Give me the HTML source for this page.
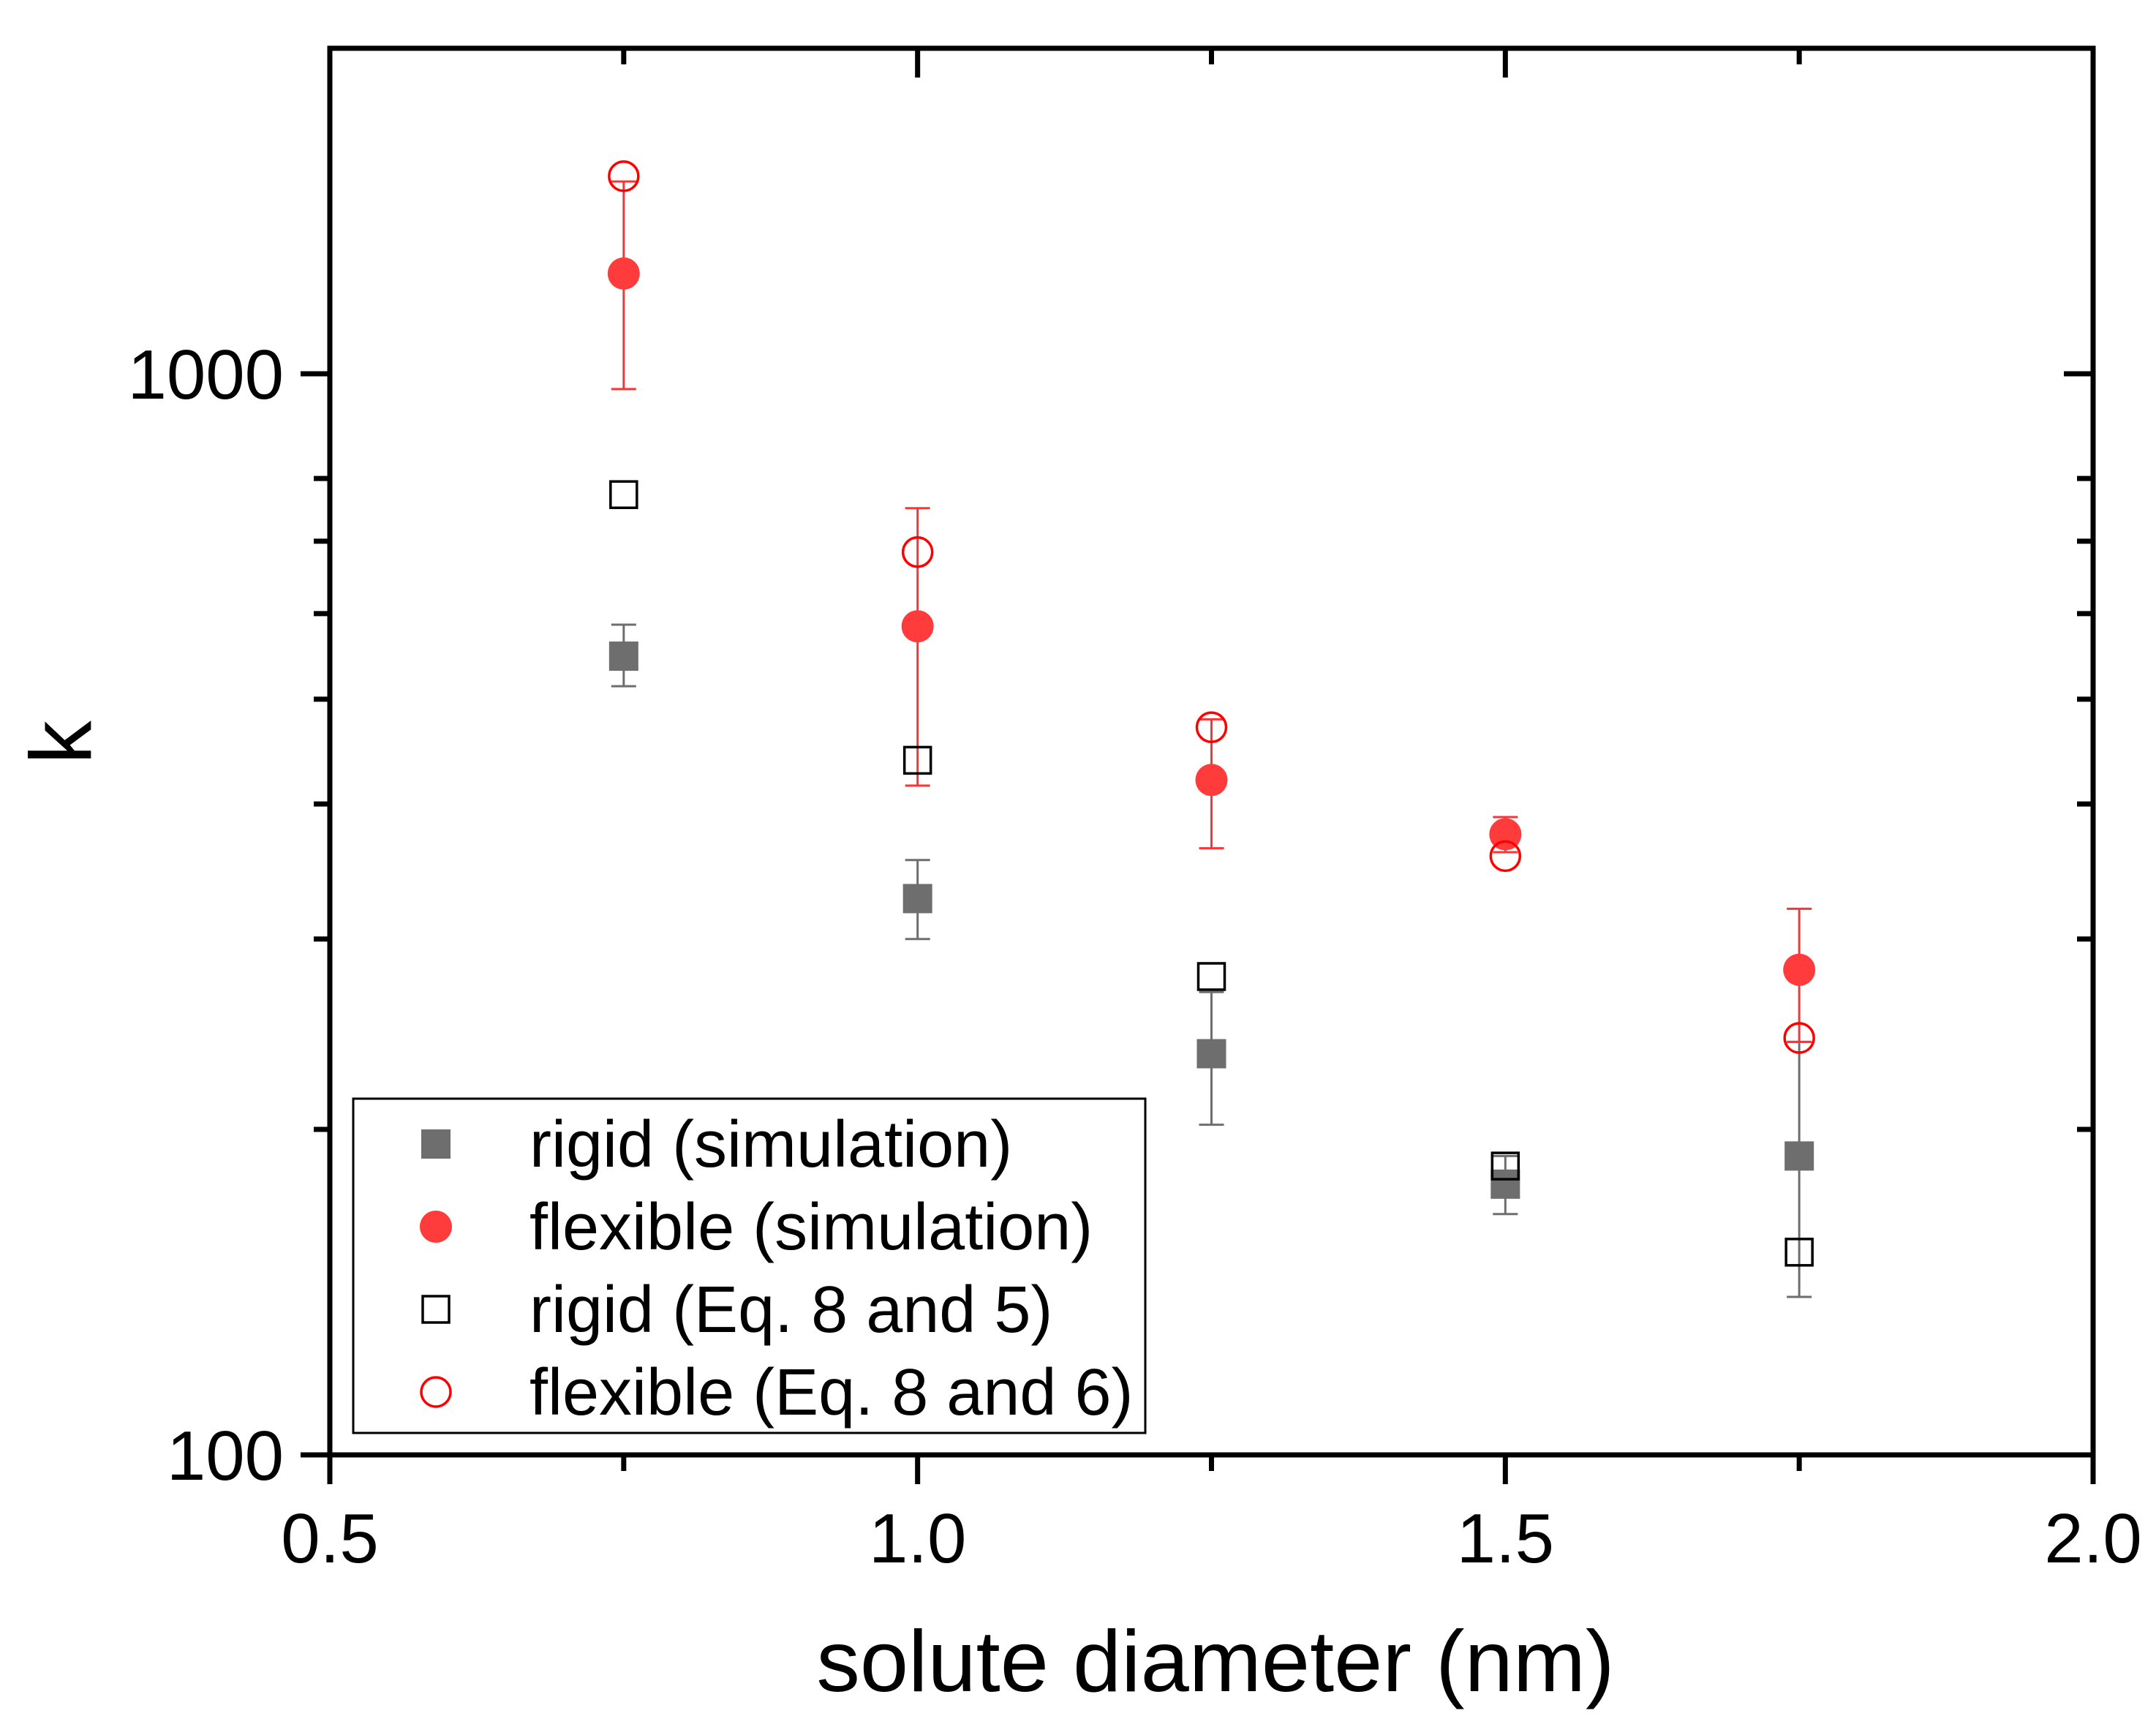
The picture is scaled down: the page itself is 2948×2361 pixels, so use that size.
<!DOCTYPE html>
<html><head><meta charset="utf-8"><style>
html,body{margin:0;padding:0;background:#fff}
svg{display:block;font-family:"Liberation Sans",Arial,sans-serif}
</style></head><body>
<svg id="chart" width="2948" height="2361" viewBox="0 0 2948 2361" xmlns="http://www.w3.org/2000/svg">
<rect width="2948" height="2361" fill="#fff"/>
<g id="marks"></g>
<g id="axes"></g>
<g id="legend"></g>
</svg>
<script>
const xCats = [0.75, 1.0, 1.25, 1.5, 1.75];
const rigidSim = [548, 327, 235, 178, 189];
const rigidSimHi = [586, 355, 268, 189, 241];
const rigidSimLo = [514, 300, 202, 167, 140];
const flexSim = [1238, 584, 421, 375, 281];
const flexSimHi = [1506, 751, 479, 389, 320];
const flexSimLo = [968, 416, 364, 361, 241];
const rigidEq = [773, 439, 277, 185, 154];
const flexEq = [1523, 684, 471, 358, 243];
const xTicks = [0.5, 1.0, 1.5, 2.0];
const xTickLabels = ["0.5", "1.0", "1.5", "2.0"];
const xMinor = [0.75, 1.25, 1.75];
const yTicks = [100, 1000];
const yTickLabels = ["100", "1000"];
const yMinor = [200, 300, 400, 500, 600, 700, 800];
const legendLabels = ["rigid (simulation)", "flexible (simulation)", "rigid (Eq. 8 and 5)", "flexible (Eq. 8 and 6)"];

const L=451,R=2862,T=66,B=1989;
const xMin=0.5,xMax=2.0,yMin=100,yMax=2000;
function sx(v){return L+(v-xMin)/(xMax-xMin)*(R-L);}
function sy(v){return B-(Math.log10(v)-Math.log10(yMin))/(Math.log10(yMax)-Math.log10(yMin))*(B-T);}
const NS="http://www.w3.org/2000/svg";
function mk(tag,attrs,parent){const e=document.createElementNS(NS,tag);for(const k in attrs)e.setAttribute(k,attrs[k]);parent.appendChild(e);return e;}
const marks=document.getElementById('marks'),axes=document.getElementById('axes'),leg=document.getElementById('legend');

function errBar(x,lo,hi,color,name){
  const g=mk('g',{},marks);
  
  
  const X=sx(x);
  mk('line',{x1:X,x2:X,y1:sy(hi),y2:sy(lo),stroke:color,'stroke-width':3},g);
  mk('line',{x1:X-17,x2:X+17,y1:sy(hi),y2:sy(hi),stroke:color,'stroke-width':3},g);
  mk('line',{x1:X-17,x2:X+17,y1:sy(lo),y2:sy(lo),stroke:color,'stroke-width':3},g);
}
xCats.forEach((x,i)=>errBar(x,rigidSimLo[i],rigidSimHi[i],'#6e6e6e','rigid-sim-error-'+i));
xCats.forEach((x,i)=>errBar(x,flexSimLo[i],flexSimHi[i],'#ff3333','flex-sim-error-'+i));
xCats.forEach((x,i)=>{
  const r=mk('rect',{x:sx(x)-20,y:sy(rigidSim[i])-20,width:40,height:40,fill:'#6e6e6e'},marks);
  
  
});
xCats.forEach((x,i)=>{
  const c=mk('circle',{cx:sx(x),cy:sy(flexSim[i]),r:22,fill:'#ff3b3b'},marks);
  
  
});
xCats.forEach((x,i)=>{
  const r=mk('rect',{x:sx(x)-18,y:sy(rigidEq[i])-18,width:36,height:36,fill:'none',stroke:'#000','stroke-width':3.5},marks);
  
  
});
xCats.forEach((x,i)=>{
  const c=mk('circle',{cx:sx(x),cy:sy(flexEq[i]),r:20,fill:'none',stroke:'#ff0000','stroke-width':3.5},marks);
  
  
});

const fr=mk('rect',{x:L,y:T,width:R-L,height:B-T,fill:'none',stroke:'#000','stroke-width':7},axes);


function tick(x1,y1,x2,y2){mk('line',{x1,y1,x2,y2,stroke:'#000','stroke-width':7},axes);}
xTicks.forEach((v,i)=>{
  const X=sx(v);tick(X,B,X,B+40);tick(X,T,X,T+40);
  const t=mk('text',{x:X,y:2136,'font-size':96,'text-anchor':'middle',fill:'#000'},axes);
  t.textContent=xTickLabels[i];
  
  
});
xMinor.forEach(v=>{const X=sx(v);tick(X,B,X,B+22);tick(X,T,X,T+22);});
yTicks.forEach((v,i)=>{
  const Y=sy(v);tick(L-40,Y,L,Y);tick(R-40,Y,R,Y);
  const t=mk('text',{x:388,y:Y+34,'font-size':96,'text-anchor':'end',fill:'#000'},axes);
  t.textContent=yTickLabels[i];
  
  
});
yMinor.forEach(v=>{const Y=sy(v);tick(L-22,Y,L,Y);tick(R-22,Y,R,Y);});
const xt=mk('text',{x:1662,y:2312,'font-size':119,'text-anchor':'middle',fill:'#000'},axes);
xt.textContent='solute diameter (nm)';


const yt=mk('text',{x:0,y:0,'font-size':119,'text-anchor':'middle',fill:'#000',transform:'translate(124,1015) rotate(-90)'},axes);
yt.textContent='k';



const lb=mk('rect',{x:483,y:1502,width:1083,height:457,fill:'#fff',stroke:'#000','stroke-width':3},leg);


const ly=[1564,1677,1790,1903];
legendLabels.forEach((lab,i)=>{
  const g=mk('g',{},leg);
  
  
  const Y=ly[i],X=596;
  if(i===0)mk('rect',{x:X-20,y:Y-20,width:40,height:40,fill:'#6e6e6e'},g);
  if(i===1)mk('circle',{cx:X,cy:Y,r:22,fill:'#ff3b3b'},g);
  if(i===2)mk('rect',{x:X-18,y:Y-18,width:36,height:36,fill:'none',stroke:'#000','stroke-width':3.5},g);
  if(i===3)mk('circle',{cx:X,cy:Y,r:20,fill:'none',stroke:'#ff0000','stroke-width':3.5},g);
  const t=mk('text',{x:724,y:Y+31,'font-size':90,fill:'#000'},g);
  t.textContent=lab;
});
</script>
</body></html>
